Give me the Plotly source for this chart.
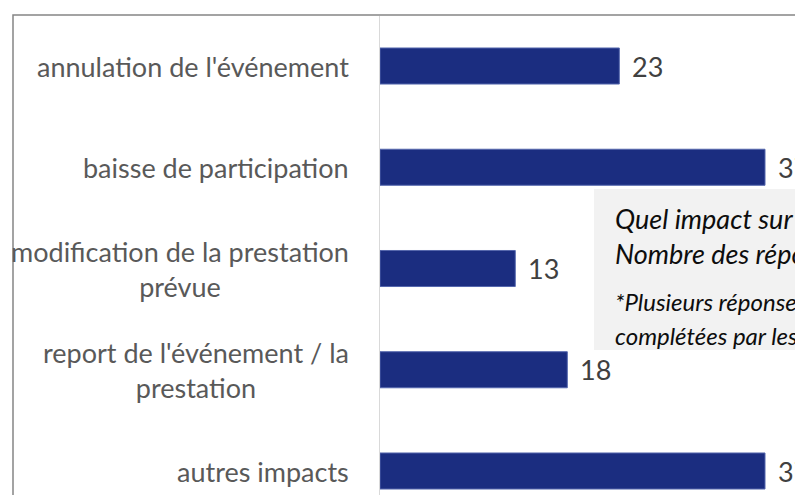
import plotly.graph_objects as go

categories = [
    "annulation de l'événement",
    "baisse de participation",
    "modification de la prestation<br>prévue",
    "report de l'événement / la<br>prestation",
    "autres impacts",
]
values = [23, 37, 13, 18, 37]

box_title = ["Quel impact sur votre activité ?", "Nombre des réponses*"]
box_note = ["*Plusieurs réponses possibles", "complétées par les répondants"]

# The page body adds an 8px margin: work in screen pixels, convert to figure pixels.
OFF = 8
W, H = 803, 495
L = 380 - OFF
T = 16 - OFF
PW, PH = W - L, H - T


def px_x(screen):
    return (screen - OFF - L) / PW


def px_y(screen):
    return 1 - (screen - OFF - T) / PH


FONT = "Lato"
BAR = "#1b2d80"
PX_PER_UNIT = 385 / 37
PX_PER_CAT = 101.25

fig = go.Figure()
fig.add_trace(go.Bar(
    x=values, y=categories, orientation="h",
    width=0.356,
    marker=dict(color=BAR, line=dict(color="#5567ad", width=1)),
    hoverinfo="skip",
))

annotations = []
for c in categories:
    annotations.append(dict(
        x=px_x(351), y=c, xref="paper", yref="y",
        text=c, showarrow=False, xanchor="right", yanchor="middle",
        align="center", font=dict(family=FONT, size=27, color="#595959"),
    ))
for c, v in zip(categories, values):
    annotations.append(dict(
        x=v, y=c, xref="x", yref="y", text=str(v), showarrow=False,
        xanchor="left", yanchor="middle", xshift=11,
        font=dict(family=FONT, size=27, color="#404040"),
    ))

# info box text
for i, t in enumerate(box_title):
    annotations.append(dict(
        x=px_x(613), y=px_y(218 + 35 * i), xref="paper", yref="paper",
        text="<i>" + t + "</i>", showarrow=False, xanchor="left", yanchor="middle",
        font=dict(family=FONT, size=27, color="#0d0d0d"),
    ))
for i, t in enumerate(box_note):
    annotations.append(dict(
        x=px_x(613), y=px_y(301 + 34 * i), xref="paper", yref="paper",
        text="<i>" + t + "</i>", showarrow=False, xanchor="left", yanchor="middle",
        font=dict(family=FONT, size=24, color="#0d0d0d"),
    ))

shapes = [
    # chart border (left and top)
    dict(type="path", xref="paper", yref="paper",
         path=(f"M {px_x(13)} {px_y(H + 40)} L {px_x(13)} {px_y(15)} "
               f"L {px_x(900)} {px_y(15)}"),
         line=dict(color="#858585", width=1.5), layer="above"),
    # info box
    dict(type="rect", xref="paper", yref="paper",
         x0=px_x(594), x1=px_x(900), y0=px_y(350), y1=px_y(189),
         fillcolor="#f2f2f2", line=dict(width=0), layer="above"),
]

bottom_screen = OFF + H
fig.update_layout(
    width=W, height=H,
    margin=dict(l=L, r=0, t=T, b=0, autoexpand=False),
    paper_bgcolor="white", plot_bgcolor="white",
    showlegend=False,
    xaxis=dict(range=[0, PW / PX_PER_UNIT], showgrid=False, zeroline=False,
               showticklabels=False, showline=False, fixedrange=True),
    yaxis=dict(range=[4 + (bottom_screen - 471) / PX_PER_CAT, -0.494],
               showgrid=False, zeroline=False, showticklabels=False, ticks="",
               showline=True, linecolor="#d9d9d9", linewidth=1,
               fixedrange=True),
    shapes=shapes,
    annotations=annotations,
)

fig.write_html("out.html")
